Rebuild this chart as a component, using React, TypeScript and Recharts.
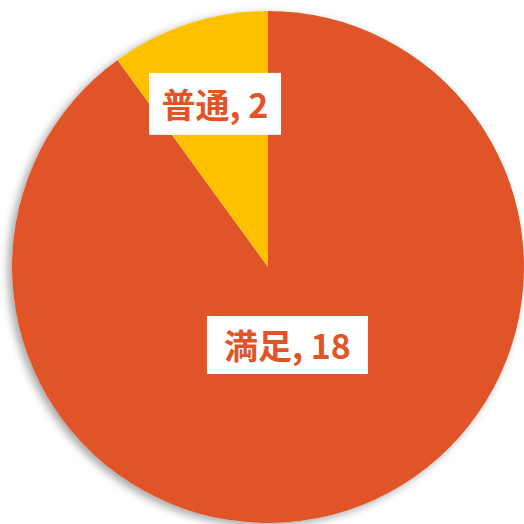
import React from "react";
import { PieChart, Pie, Cell } from "recharts";

const categories = ["満足", "普通"];
const values = [18, 2];
const colors = ["#E15427", "#FFC000"];

const data = categories.map((name, i) => ({ name, value: values[i] }));
const shadowData = [{ name: "s", value: 1 }];

const RAD = Math.PI / 180;
const labelRadiusFrac = [0.314, 0.67];
const labelAngleShift = [-4, 0];
const boxWidths = [161, 132];
const boxHeights = [58, 62];

const renderLabel = (props: any) => {
  const { cx, cy, midAngle, outerRadius, index, name, value } = props;
  const r = outerRadius * labelRadiusFrac[index];
  const a = (midAngle + labelAngleShift[index]) * RAD;
  const x = cx + r * Math.cos(-a);
  const y = cy + r * Math.sin(-a);
  const w = boxWidths[index];
  const h = boxHeights[index];
  return (
    <g>
      <rect x={x - w / 2} y={y - h / 2} width={w} height={h} fill="#FFFFFF" />
      <text
        x={x}
        y={y}
        textAnchor="middle"
        dominantBaseline="central"
        fill="#E15427"
        fontSize={34}
        fontWeight="bold"
        fontFamily="'Noto Sans CJK JP', sans-serif"
      >
        {`${name}, ${value}`}
      </text>
    </g>
  );
};

export default function App() {
  return (
    <div style={{ position: "absolute", left: 0, top: 0, width: 524, height: 524, background: "#fff" }}>
      <PieChart width={524} height={524} margin={{ top: 0, right: 0, bottom: 0, left: 0 }}>
        <Pie
          data={shadowData}
          dataKey="value"
          cx={268}
          cy={267}
          outerRadius={256}
          startAngle={90}
          endAngle={-270}
          stroke="none"
          isAnimationActive={false}
          fill="#ffffff"
          style={{ filter: "drop-shadow(-4px 3px 4px rgba(0,0,0,0.35))" }}
        />
        <Pie
          data={data}
          dataKey="value"
          nameKey="name"
          cx={268}
          cy={267}
          outerRadius={256}
          startAngle={90}
          endAngle={-270}
          stroke="none"
          isAnimationActive={false}
          label={renderLabel}
          labelLine={false}
        >
          {data.map((d, i) => (
            <Cell key={d.name} fill={colors[i]} />
          ))}
        </Pie>
      </PieChart>
    </div>
  );
}
